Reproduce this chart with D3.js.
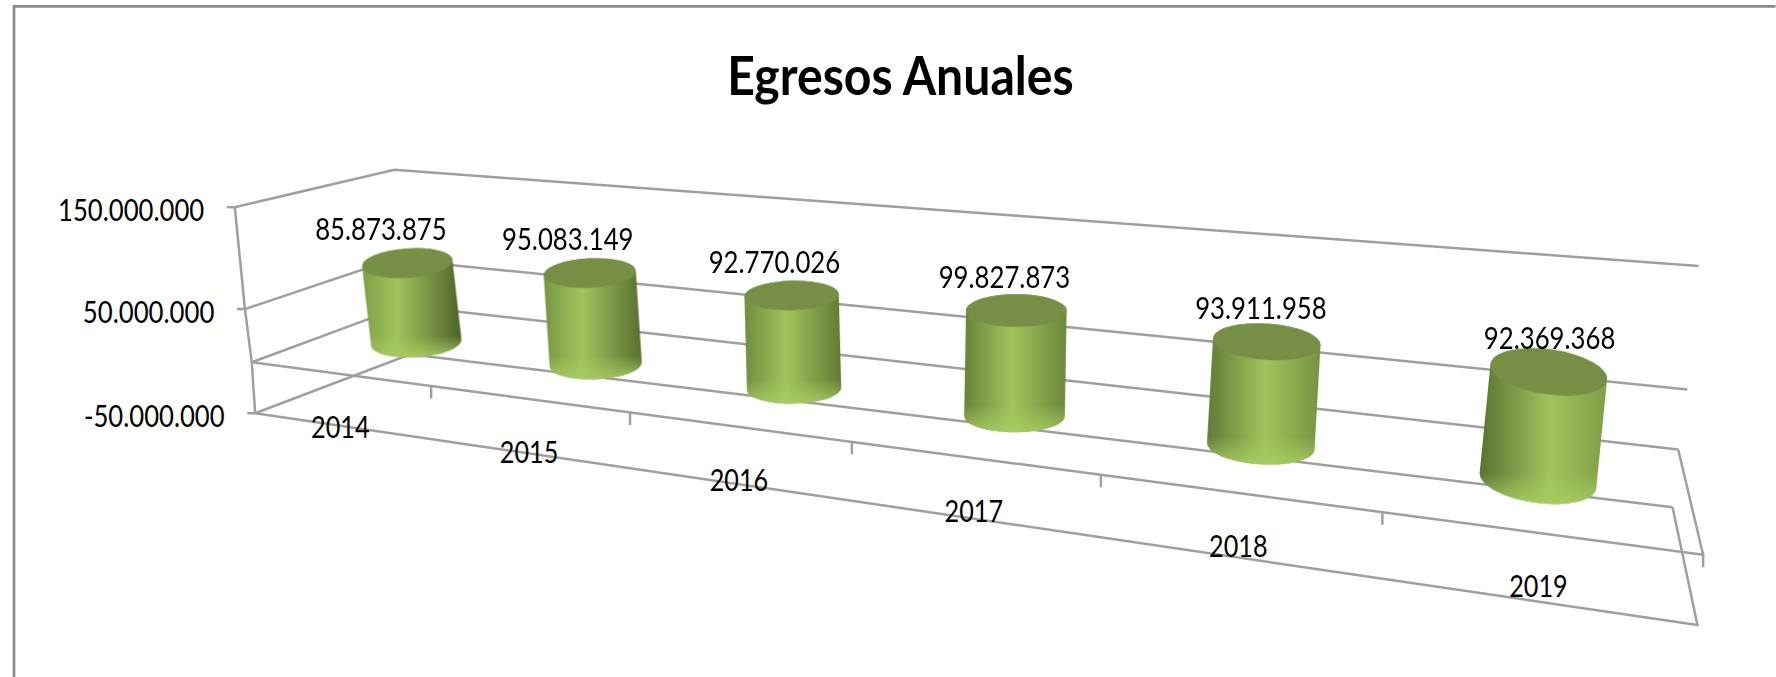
<!DOCTYPE html>
<html lang="es">
<head>
<meta charset="utf-8"/>
<title>Egresos Anuales</title>
<script src="https://d3js.org/d3.v7.min.js"></script>
<style>
html,body{margin:0;padding:0;background:#fff;}
svg{display:block;}
text{font-family:Lato,"Liberation Sans",sans-serif;fill:#000;}
</style>
</head>
<body>
<div id="chart"></div>
<script>
var years=["2014","2015","2016","2017","2018","2019"];
var egresos=[85873875,95083149,92770026,99827873,93911958,92369368];
var axisTicks=[-50000000,50000000,150000000];
var axisLabels=["-50.000.000","50.000.000","150.000.000"];
var title="Egresos Anuales";

// walls of the 3d box, one scale per corner, drawn in the shrunk 1568x598 space
var levels=[-50000000,0,50000000,150000000];
var flX=d3.scaleLinear().domain(levels).range([225,222,216,207]),
    flY=d3.scaleLinear().domain(levels).range([365,320,273,183]),
    frX=d3.scaleLinear().domain(levels).range([1499,1504,1511,1526]),
    frY=d3.scaleLinear().domain(levels).range([552,490,428,304]),
    blX=d3.scaleLinear().domain(levels).range([362,357,347,348]),
    blY=d3.scaleLinear().domain(levels).range([313,270,229,150]),
    brX=d3.scaleLinear().domain(levels).range([1477,1482,1490,1500]),
    brY=d3.scaleLinear().domain(levels).range([448,397,344,235]);

var cat=d3.scaleLinear().domain([0,years.length]).range([0,1]);
// excel draws the columns a bit shorter than the grid says
var barLevel=d3.scaleLinear().domain([0,150000000]).range([0,139000000]);
var rxScale=d3.scaleLinear().domain([0.06,0.33,0.68,0.89]).range([40,41.5,47.5,52]);
var ryScale=d3.scaleLinear().domain([0.06,0.33,0.68,0.89]).range([13,13,16,20]);
var tilt=d3.scaleLinear().domain([0.06,0.5,0.89]).range([-4,0,8]);
var labelDx=d3.scaleLinear().domain([0,1]).range([-25,4]);
var depth=0.53;

// categories get wider towards the viewer, less so further back
function warp(t,d){
    var g=-0.295+0.03*d;
    return (1+g)*t/(1+g*t);
}
function pt(t,v,d){
    var f=warp(t,d);
    var fx=flX(v)+(frX(v)-flX(v))*f, fy=flY(v)+(frY(v)-flY(v))*f;
    var bx=blX(v)+(brX(v)-blX(v))*f, by=blY(v)+(brY(v)-blY(v))*f;
    return [fx+(bx-fx)*d, fy+(by-fy)*d];
}
// the original text is a squeezed calibri, so force the width per character
function squeeze(s){
    var w=0;
    s.split("").forEach(function(c){
        w+= c=="." ? 6.5 : c=="-" ? 8 : 12.9;
    });
    return w;
}
function dotted(d){
    return d3.format(",")(d).replace(/,/g,".");
}

var svg=d3.select("#chart").append("svg")
    .attr("width",1776).attr("height",677)
    .attr("viewBox","0 0 1568 598");

var defs=svg.append("defs");
defs.append("filter").attr("id","soft").attr("x","-5%").attr("y","-5%").attr("width","110%").attr("height","110%")
    .append("feGaussianBlur").attr("stdDeviation",0.55);

// chart frame
var line=d3.line();
svg.append("path").attr("d",line([[12,598],[12,5.7],[1568,5.7]]))
    .attr("fill","none").attr("stroke","#8c8c8c").attr("stroke-width",2.4);

svg.append("text").attr("x",795).attr("y",84).attr("text-anchor","middle")
    .attr("font-size",48).attr("font-weight","bold")
    .attr("textLength",306).attr("lengthAdjust","spacingAndGlyphs").text(title);

var grid=svg.append("g").attr("filter","url(#soft)")
    .attr("fill","none").attr("stroke","#9f9f9f").attr("stroke-width",2.2);

// back wall and left wall lines, at every grid level
levels.forEach(function(v){
    grid.append("path").attr("d",line([pt(0,v,0),pt(0,v,1),pt(1,v,1)]));
});
// floor at zero and box bottom, front edges and right edges
[0,-50000000].forEach(function(v){
    grid.append("path").attr("d",line([pt(0,v,0),pt(1,v,0),pt(1,v,1)]));
});
// value axis
grid.append("path").attr("d",line([pt(0,150000000,0),pt(0,50000000,0),pt(0,0,0),pt(0,-50000000,0)]));
axisTicks.forEach(function(v){
    var p=pt(0,v,0);
    grid.append("path").attr("d",line([[p[0]-7,p[1]],p]));
});
// category ticks
d3.range(1,years.length+1).forEach(function(i){
    var p=pt(cat(i),0,0);
    grid.append("path").attr("d",line([p,[p[0],p[1]+11]]));
});

svg.selectAll(".axisLabel").data(axisTicks).enter().append("text")
    .attr("class","axisLabel")
    .attr("x",function(d){return pt(0,d,0)[0]-27;})
    .attr("y",function(d){return pt(0,d,0)[1]+12;})
    .attr("text-anchor","end").attr("font-size",28)
    .attr("textLength",function(d,i){return squeeze(axisLabels[i]);})
    .attr("lengthAdjust","spacingAndGlyphs")
    .text(function(d,i){return axisLabels[i];});

svg.selectAll(".yearLabel").data(years).enter().append("text")
    .attr("class","yearLabel")
    .attr("x",function(d,i){return pt(cat(i+0.5),0,0)[0]+1;})
    .attr("y",function(d,i){return pt(cat(i+0.5),0,0)[1]+57;})
    .attr("text-anchor","middle").attr("font-size",28)
    .attr("textLength",function(d){return squeeze(d);})
    .attr("lengthAdjust","spacingAndGlyphs")
    .text(function(d){return d;});

// cylinder shading moves from left lit to right lit along the axis
var leftDark=d3.scaleLinear().domain([0,5]).range(["#7f9f46","#5a7232"]);
var rightDark=d3.scaleLinear().domain([0,5]).range(["#4f6329","#7f9f46"]);
var peak=d3.scaleLinear().domain([0,5]).range([35,55]);

var rim=defs.append("linearGradient").attr("id","rim").attr("x1",0).attr("x2",0).attr("y1",0).attr("y2",1);
rim.append("stop").attr("offset","80%").attr("stop-color","#a6cc60").attr("stop-opacity",0);
rim.append("stop").attr("offset","100%").attr("stop-color","#a6cc60").attr("stop-opacity",0.9);

var bars=svg.append("g").attr("filter","url(#soft)");

egresos.forEach(function(v,i){
    var t=cat(i+0.5);
    var base=pt(t,0,depth), top=pt(t,barLevel(v),depth);
    var u=warp(t,depth);
    var rx=rxScale(u), ry=ryScale(u), a=tilt(u);
    var cs=Math.cos(a*Math.PI/180)*rx, sn=Math.sin(a*Math.PI/180)*rx;

    var grad=defs.append("linearGradient").attr("id","cyl"+i);
    grad.append("stop").attr("offset","0%").attr("stop-color",leftDark(i));
    grad.append("stop").attr("offset",peak(i)+"%").attr("stop-color","#a1c45e");
    grad.append("stop").attr("offset","100%").attr("stop-color",rightDark(i));

    var body="M"+(top[0]-cs)+","+(top[1]-sn)+"L"+(base[0]-cs)+","+(base[1]-sn)
        +"A"+rx+","+ry+" "+a+" 0 0 "+(base[0]+cs)+","+(base[1]+sn)
        +"L"+(top[0]+cs)+","+(top[1]+sn)
        +"A"+rx+","+ry+" "+a+" 0 0 "+(top[0]-cs)+","+(top[1]-sn)+"Z";

    bars.append("path").attr("d",body).attr("fill","url(#cyl"+i+")");
    bars.append("path").attr("d",body).attr("fill","url(#rim)");
    bars.append("ellipse").attr("cx",top[0]).attr("cy",top[1]).attr("rx",rx).attr("ry",ry)
        .attr("transform","rotate("+a+" "+top[0]+" "+top[1]+")")
        .attr("fill","#778f45");
});

svg.selectAll(".valueLabel").data(egresos).enter().append("text")
    .attr("class","valueLabel")
    .attr("x",function(d,i){var t=cat(i+0.5);return pt(t,barLevel(d),depth)[0]+labelDx(warp(t,depth));})
    .attr("y",function(d,i){var t=cat(i+0.5);return pt(t,barLevel(d),depth)[1]-20;})
    .attr("text-anchor","middle").attr("font-size",28)
    .attr("textLength",function(d){return squeeze(dotted(d));})
    .attr("lengthAdjust","spacingAndGlyphs")
    .text(function(d){return dotted(d);});
</script>
</body>
</html>
